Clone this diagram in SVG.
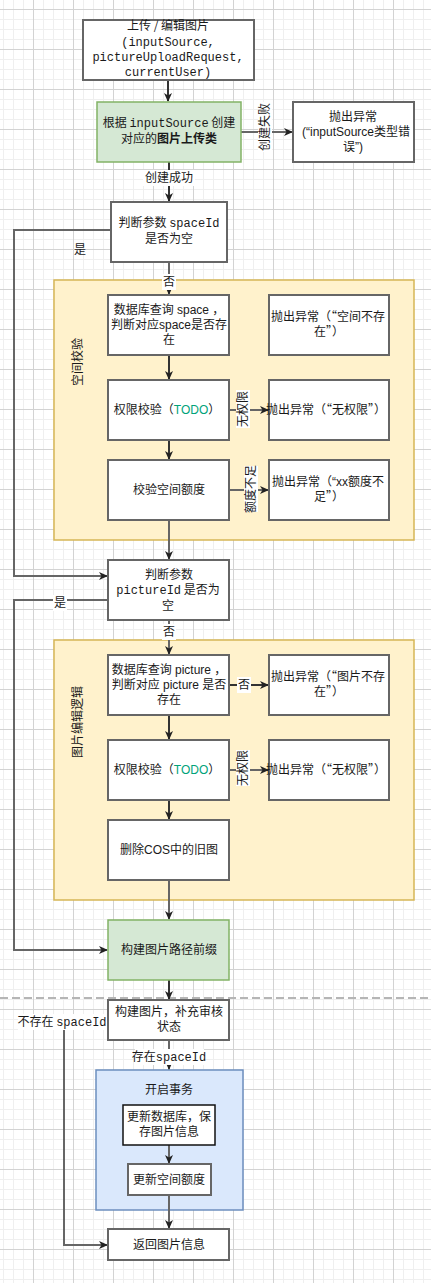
<svg xmlns="http://www.w3.org/2000/svg" width="431" height="1283" viewBox="0 0 431 1283">
<style>
text{font-family:"Noto Sans CJK SC","Liberation Sans",sans-serif;font-size:12px;fill:#1a1a1a;text-anchor:middle}
.mono{font-family:"Liberation Mono","Noto Sans CJK SC",monospace}
.sans{font-family:"Liberation Sans","Noto Sans CJK SC",sans-serif}
.node{fill:#fff;stroke:#666;stroke-width:2}
.green{fill:#d5e8d4;stroke:#82b366;stroke-width:1.5}
.yel{fill:#fff2cc;stroke:#d6b656;stroke-width:1.5}
.blue{fill:#dae8fc;stroke:#6c8ebf;stroke-width:1.5}
.e{fill:none;stroke:#333;stroke-width:2;marker-end:url(#ad)}
.g{fill:none;stroke:#666;stroke-width:2;marker-end:url(#ag)}
.lb{fill:#fff}
</style>
<defs>
<pattern id="minor" width="10" height="10" patternUnits="userSpaceOnUse" x="3" y="9">
<path d="M0 0.5H10M0.5 0V10" stroke="#efefef" stroke-width="1" fill="none"/>
</pattern>
<pattern id="major" width="40" height="40" patternUnits="userSpaceOnUse" x="33" y="9">
<path d="M0 0.5H40M0.5 0V40" stroke="#d3d3d3" stroke-width="1" fill="none"/>
</pattern>
<marker id="ad" markerUnits="userSpaceOnUse" markerWidth="10" markerHeight="10" refX="8" refY="5" orient="auto">
<path d="M0,1 L9,5 L0,9 L2.5,5 Z" fill="#222"/>
</marker>
<marker id="ag" markerUnits="userSpaceOnUse" markerWidth="10" markerHeight="10" refX="8" refY="5" orient="auto">
<path d="M0,1 L9,5 L0,9 L2.5,5 Z" fill="#222"/>
</marker>
</defs>
<rect width="431" height="1283" fill="#fff"/>
<rect width="431" height="1283" fill="url(#minor)"/>
<rect width="431" height="1283" fill="url(#major)"/>
<line x1="0" y1="998" x2="431" y2="998" stroke="#b5b5b5" stroke-width="2" stroke-dasharray="8 4"/>

<g id="container-space">
<rect class="yel" x="54" y="280" width="360" height="260"/>
<text transform="translate(82,362) rotate(-90)">空间校验</text>
</g>
<g id="container-picture">
<rect class="yel" x="54" y="640" width="360" height="260"/>
<text transform="translate(82,722) rotate(-90)">图片编辑逻辑</text>
</g>
<g id="container-tx">
<rect class="blue" x="96" y="1070" width="147" height="140"/>
<text x="169" y="1094">开启事务</text>
</g>

<g id="connectors">
<path class="e" d="M168,80 V101"/>
<path class="g" d="M241,132 H292"/>
<path class="e" d="M169,162 V201"/>
<path class="g" d="M111,230 H14 V576 H107"/>
<path class="g" d="M169,262 V294"/>
<path class="e" d="M169,355 V379"/>
<path class="g" d="M229,410 H268"/>
<path class="e" d="M169,440 V459"/>
<path class="g" d="M229,490 H268"/>
<path class="g" d="M169,520 V559"/>
<path class="g" d="M108,600 H14 V950 H107"/>
<path class="g" d="M169,620 V654"/>
<path class="e" d="M229,685 H268"/>
<path class="e" d="M169,715 V739"/>
<path class="g" d="M229,770 H268"/>
<path class="e" d="M169,800 V819"/>
<path class="g" d="M169,880 V919"/>
<path class="e" d="M169,980 V999"/>
<path class="g" d="M108,1020 H64 V1245 H107"/>
<path class="g" d="M169,1040 V1069"/>
<path class="g" d="M169,1145 V1163"/>
<path class="g" d="M169,1195 V1228"/>
<g id="edge-labels">
<rect class="lb" x="258" y="102" width="14" height="50"/>
<text transform="translate(269,127) rotate(-90)">创建失败</text>
<rect class="lb" x="143" y="170" width="52" height="16"/>
<text x="169" y="182">创建成功</text>
<text x="80" y="254">是</text>
<rect class="lb" x="162" y="274" width="14" height="16"/>
<text x="169" y="286">否</text>
<rect class="lb" x="236" y="390" width="14" height="38"/>
<text transform="translate(247,409) rotate(-90)">无权限</text>
<rect class="lb" x="244" y="466" width="14" height="46"/>
<text transform="translate(255,489) rotate(-90)">额度不足</text>
<rect class="lb" x="53" y="595" width="14" height="16"/>
<text x="60" y="607">是</text>
<rect class="lb" x="162" y="624" width="14" height="16"/>
<text x="169" y="636">否</text>
<rect class="lb" x="237" y="677" width="14" height="16"/>
<text x="244" y="689">否</text>
<rect class="lb" x="236" y="750" width="14" height="36"/>
<text transform="translate(247,768) rotate(-90)">无权限</text>
<rect class="lb" x="18" y="1014" width="89" height="16"/>
<text x="62" y="1026">不存在 <tspan class="mono">spaceId</tspan></text>
<rect class="lb" x="135" y="1049" width="69" height="16"/>
<text x="169" y="1061">存在<tspan class="mono">spaceId</tspan></text>
</g>
</g>

<g id="n-upload">
<rect class="node" x="83" y="20" width="171" height="60"/>
<text x="168" y="30">上传 / 编辑图片</text>
<text class="mono" x="168" y="46">(inputSource,</text>
<text class="mono" x="168" y="61">pictureUploadRequest,</text>
<text class="mono" x="168" y="76">currentUser)</text>
</g>
<g id="n-create">
<rect class="green" x="97" y="102" width="144" height="60"/>
<text x="169" y="127">根据 <tspan class="mono">inputSource</tspan> 创建</text>
<text x="169" y="143">对应的<tspan font-weight="bold">图片上传类</tspan></text>
</g>
<g id="n-err-type">
<rect class="node" x="293" y="102" width="121" height="60"/>
<text x="353" y="121">抛出异常</text>
<text class="sans" x="356" y="136">(“inputSource类型错</text>
<text class="sans" x="353" y="151">误”)</text>
</g>
<g id="n-space-null">
<rect class="node" x="111" y="202" width="116" height="60"/>
<text x="169" y="227">判断参数 <tspan class="mono">spaceId</tspan></text>
<text x="169" y="243">是否为空</text>
</g>
<g id="n-query-space">
<rect class="node" x="108" y="295" width="121" height="60"/>
<text class="sans" x="169" y="314">数据库查询 space ，</text>
<text class="sans" x="169" y="329">判断对应space是否存</text>
<text class="sans" x="169" y="344">在</text>
</g>
<g id="n-err-space">
<rect class="node" x="269" y="295" width="120" height="60"/>
<text x="328" y="321">抛出异常（“空间不存</text>
<text x="329" y="336">在”）</text>
</g>
<g id="n-auth1">
<rect class="node" x="108" y="380" width="121" height="60"/>
<text class="sans" x="167" y="414">权限校验（<tspan fill="#00a37a">TODO</tspan>）</text>
</g>
<g id="n-err-auth1">
<rect class="node" x="269" y="380" width="120" height="60"/>
<text x="326" y="414">抛出异常（“无权限”）</text>
</g>
<g id="n-quota">
<rect class="node" x="108" y="460" width="121" height="60"/>
<text x="169" y="494">校验空间额度</text>
</g>
<g id="n-err-quota">
<rect class="node" x="269" y="460" width="120" height="60"/>
<text class="sans" x="328" y="486">抛出异常（“xx额度不</text>
<text x="329" y="501">足”）</text>
</g>
<g id="n-picture-null">
<rect class="node" x="108" y="560" width="121" height="60"/>
<text x="169" y="579">判断参数</text>
<text x="168" y="594"><tspan class="mono">pictureId</tspan> 是否为</text>
<text x="168" y="610">空</text>
</g>
<g id="n-query-picture">
<rect class="node" x="108" y="655" width="121" height="60"/>
<text class="sans" x="169" y="674">数据库查询 picture ，</text>
<text class="sans" x="169" y="689">判断对应 picture 是否</text>
<text class="sans" x="169" y="704">存在</text>
</g>
<g id="n-err-picture">
<rect class="node" x="269" y="655" width="120" height="60"/>
<text x="328" y="681">抛出异常（“图片不存</text>
<text x="329" y="696">在”）</text>
</g>
<g id="n-auth2">
<rect class="node" x="108" y="740" width="121" height="60"/>
<text class="sans" x="167" y="774">权限校验（<tspan fill="#00a37a">TODO</tspan>）</text>
</g>
<g id="n-err-auth2">
<rect class="node" x="269" y="740" width="120" height="60"/>
<text x="326" y="774">抛出异常（“无权限”）</text>
</g>
<g id="n-delete-cos">
<rect class="node" x="108" y="820" width="121" height="60"/>
<text class="sans" x="169" y="854">删除COS中的旧图</text>
</g>
<g id="n-prefix">
<rect class="green" x="108" y="920" width="121" height="60"/>
<text x="169" y="954">构建图片路径前缀</text>
</g>
<g id="n-build">
<rect class="node" x="108" y="1000" width="121" height="40"/>
<text x="169" y="1016">构建图片，补充审核</text>
<text x="169" y="1031">状态</text>
</g>
<g id="n-save-db">
<rect x="123" y="1105" width="92" height="40" fill="#fff" stroke="#111" stroke-width="1.5"/>
<text x="169" y="1121">更新数据库，保</text>
<text x="169" y="1136">存图片信息</text>
</g>
<g id="n-update-quota">
<rect class="node" x="128" y="1164" width="83" height="31"/>
<text x="169" y="1184">更新空间额度</text>
</g>
<g id="n-return">
<rect class="node" x="108" y="1229" width="121" height="31"/>
<text x="169" y="1249">返回图片信息</text>
</g>
</svg>
